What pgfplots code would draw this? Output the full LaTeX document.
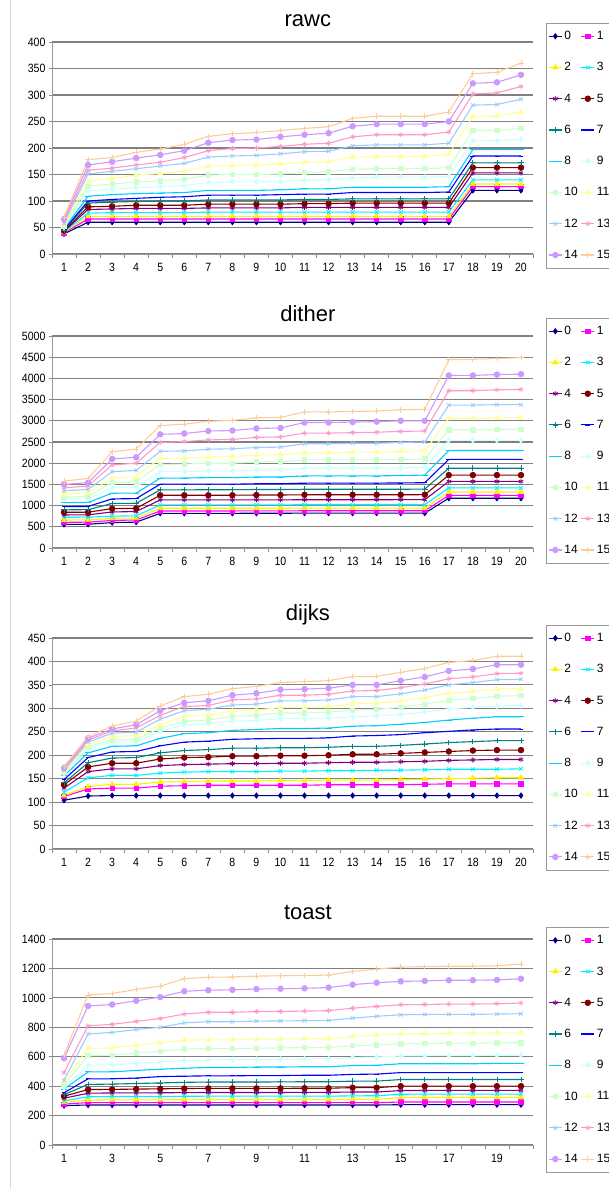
\documentclass[border=0pt]{standalone}
\usepackage{fontspec}
\setmainfont{Liberation Sans}
\newfontfamily\tickfont[FakeStretch=0.88]{Liberation Sans}
\usepackage{pgfplots}
\usepackage{pgfplotstable}
\pgfplotsset{compat=1.18}

\definecolor{c0}{RGB}{0,0,128}
\definecolor{c1}{RGB}{255,0,255}
\definecolor{c2}{RGB}{255,240,0}
\definecolor{c3}{RGB}{0,240,255}
\definecolor{c4}{RGB}{128,0,128}
\definecolor{c5}{RGB}{128,0,0}
\definecolor{c6}{RGB}{0,128,128}
\definecolor{c7}{RGB}{0,0,255}
\definecolor{c8}{RGB}{0,204,255}
\definecolor{c9}{RGB}{204,255,255}
\definecolor{c10}{RGB}{204,255,204}
\definecolor{c11}{RGB}{255,255,153}
\definecolor{c12}{RGB}{153,204,255}
\definecolor{c13}{RGB}{255,153,204}
\definecolor{c14}{RGB}{204,153,255}
\definecolor{c15}{RGB}{255,204,153}

\pgfplotstableread{
x s0 s1 s2 s3 s4 s5 s6 s7 s8 s9 s10 s11 s12 s13 s14 s15
1 38 40 41 42 43 44 45 46 48 50 52 55 58 62 66 70
2 60 66 71 77 84 89 96 100 109 119 128 138 151 158 168 178
3 60 66 71 78 85 90 98 103 112 122 132 143 156 162 174 182
4 60 66 71 78 86 92 99 105 114 125 136 149 161 168 181 192
5 60 66 71 78 86 92 100 107 115 127 138 152 166 173 187 198
6 60 66 71 78 86 92 100 108 116 129 141 156 171 182 195 207
7 60 66 71 79 87 94 102 111 120 135 149 166 183 195 210 222
8 60 66 71 79 87 94 102 111 120 136 150 167 185 199 215 227
9 60 66 71 79 87 94 102 111 120 136 150 168 186 200 216 229
10 60 66 71 79 87 94 102 112 121 137 151 170 189 203 221 233
11 60 66 71 79 88 95 103 113 123 139 154 173 193 207 225 237
12 60 66 71 79 88 95 103 113 123 140 155 174 194 209 228 240
13 60 66 71 79 88 96 104 116 126 144 160 183 204 221 241 256
14 60 66 71 79 88 96 104 116 126 145 161 184 206 225 245 260
15 60 66 71 79 88 96 104 116 126 145 161 184 206 225 245 260
16 60 66 71 79 88 96 104 116 126 145 161 184 206 225 245 260
17 60 66 71 79 88 96 104 117 127 146 163 188 209 230 250 268
18 120 127 132 140 153 163 172 185 197 214 233 260 281 302 322 340
19 120 127 132 140 153 163 172 185 197 214 233 260 282 304 324 343
20 120 127 132 140 153 163 172 185 197 216 237 268 292 316 338 360
}\rawc

\pgfplotstableread{
x s0 s1 s2 s3 s4 s5 s6 s7 s8 s9 s10 s11 s12 s13 s14 s15
1 556 605 660 724 779 842 900 976 1071 1150 1200 1280 1350 1420 1500 1580
2 560 610 665 728 782 845 905 980 1075 1160 1215 1300 1380 1460 1540 1640
3 600 650 700 750 850 929 1050 1158 1292 1420 1550 1650 1800 1960 2100 2270
4 610 660 710 760 860 935 1055 1165 1295 1440 1560 1680 1830 2000 2140 2335
5 818 874 937 1016 1134 1245 1371 1505 1648 1800 1970 2120 2280 2490 2680 2890
6 818 874 937 1016 1134 1245 1371 1505 1650 1800 1980 2120 2290 2510 2700 2920
7 818 874 937 1016 1134 1245 1375 1505 1660 1820 2000 2150 2330 2550 2760 2990
8 818 874 937 1016 1134 1245 1375 1505 1660 1820 2000 2160 2340 2560 2770 3010
9 820 876 938 1018 1136 1250 1380 1515 1675 1840 2030 2190 2370 2610 2820 3070
10 820 876 938 1018 1136 1250 1380 1515 1675 1840 2030 2200 2380 2620 2830 3080
11 822 878 940 1020 1138 1255 1385 1530 1700 1880 2080 2250 2460 2710 2960 3210
12 822 878 940 1020 1138 1255 1385 1530 1700 1880 2080 2250 2460 2710 2960 3210
13 822 878 940 1020 1138 1255 1385 1530 1700 1880 2080 2260 2470 2720 2970 3220
14 822 878 940 1020 1138 1255 1385 1530 1700 1880 2080 2260 2470 2730 2980 3230
15 822 878 940 1020 1140 1255 1385 1535 1710 1890 2090 2280 2490 2750 3000 3260
16 822 880 942 1022 1140 1258 1390 1540 1720 1900 2100 2290 2500 2760 3000 3270
17 1174 1240 1320 1420 1570 1720 1880 2090 2300 2540 2790 3060 3370 3710 4070 4440
18 1174 1240 1320 1420 1570 1720 1880 2090 2300 2540 2790 3060 3370 3710 4070 4450
19 1174 1240 1320 1420 1570 1720 1880 2090 2300 2540 2800 3070 3380 3730 4090 4470
20 1174 1240 1320 1420 1570 1720 1880 2090 2300 2540 2800 3070 3380 3740 4100 4490
}\dither

\pgfplotstableread{
x s0 s1 s2 s3 s4 s5 s6 s7 s8 s9 s10 s11 s12 s13 s14 s15
1 104 112 114 121 130 137 141 148 156 160 163 166 168 170 173 176
2 113 128 133 152 165 175 184 195 205 213 218 223 228 232 236 240
3 114 130 138 157 171 183 194 207 219 228 233 240 247 252 256 262
4 114 130 138 157 171 183 195 208 220 229 234 242 249 258 265 273
5 114 134 143 162 178 192 205 220 236 251 258 265 277 285 295 305
6 114 135 144 164 180 195 210 228 246 265 272 283 295 304 312 325
7 114 136 145 165 181 196 212 230 248 267 275 286 298 306 316 330
8 114 136 145 165 182 198 215 234 253 273 283 294 307 318 328 342
9 114 136 145 165 182 198 215 235 255 274 285 296 309 320 332 347
10 114 136 146 166 183 199 216 236 257 278 290 302 316 328 340 355
11 114 136 146 166 183 199 216 236 257 278 290 302 316 328 341 357
12 114 137 147 167 184 200 217 237 258 279 292 304 318 330 343 359
13 114 137 147 167 185 202 219 241 262 282 296 310 325 337 350 368
14 114 137 147 168 185 202 219 242 263 284 298 311 325 338 350 368
15 114 137 148 168 186 204 221 244 266 287 302 316 331 344 359 377
16 114 138 149 169 187 206 224 248 270 292 309 323 339 352 367 385
17 114 139 150 170 189 208 227 251 275 299 317 332 350 363 380 398
18 114 139 151 170 190 210 229 254 279 302 321 336 355 367 384 402
19 114 139 152 170 191 211 231 256 282 305 326 341 361 374 393 411
20 114 139 152 171 191 211 231 256 282 306 327 342 362 375 393 411
}\dijks

\pgfplotstableread{
x s0 s1 s2 s3 s4 s5 s6 s7 s8 s9 s10 s11 s12 s13 s14 s15
1 268 278 290 300 318 332 342 355 380 392 410 430 440 492 590 610
2 272 288 305 328 352 377 412 450 497 542 607 657 755 810 945 1020
3 272 288 307 330 354 378 414 450 497 545 610 660 765 820 955 1030
4 272 288 307 330 354 380 418 455 507 555 625 678 785 840 980 1057
5 272 288 307 331 355 382 422 465 515 565 637 695 800 860 1005 1080
6 272 288 308 331 356 384 426 468 522 575 653 713 830 890 1045 1130
7 272 288 308 332 357 385 428 470 527 578 655 715 838 902 1052 1140
8 272 288 308 332 357 385 428 470 527 580 655 715 838 902 1055 1142
9 272 288 308 332 357 385 428 472 530 582 658 718 842 907 1060 1148
10 272 288 308 332 357 385 429 472 530 583 660 720 843 908 1062 1150
11 272 288 308 332 358 386 430 474 532 585 662 722 845 910 1065 1152
12 272 288 308 332 358 386 430 474 532 585 662 722 847 913 1070 1155
13 272 288 310 334 360 390 434 480 540 595 675 738 862 930 1090 1180
14 272 288 310 335 360 390 434 482 542 598 680 748 875 942 1103 1195
15 274 292 322 345 370 400 445 492 552 605 688 755 885 953 1112 1210
16 274 292 323 346 371 400 445 492 552 607 690 758 887 955 1115 1212
17 274 292 323 346 371 400 445 492 552 608 692 760 888 958 1120 1215
18 274 292 323 346 371 400 445 492 552 608 692 760 888 958 1120 1215
19 274 292 323 346 371 400 445 492 555 610 695 762 890 960 1122 1218
20 274 292 323 346 371 400 445 492 555 610 695 762 892 965 1130 1230
}\toast

\pgfplotsset{
  s0/.style={c0, mark=diamond*, mark size=2.6pt},
  s1/.style={c1, mark=square*, mark size=2.2pt},
  s2/.style={c2, mark=triangle*, mark size=2.8pt},
  s3/.style={c3, mark=x, mark size=2.6pt},
  s4/.style={c4, mark=asterisk, mark size=2.6pt},
  s5/.style={c5, mark=*, mark size=2.8pt},
  s6/.style={c6, mark=+, mark size=2.8pt},
  s7/.style={c7, mark=-, mark size=2.4pt},
  s8/.style={c8, mark=-, mark size=3.2pt},
  s9/.style={c9, mark=diamond*, mark size=2.6pt},
  s10/.style={c10, mark=square*, mark size=2.2pt},
  s11/.style={c11, mark=triangle*, mark size=2.8pt},
  s12/.style={c12, mark=x, mark size=2.6pt},
  s13/.style={c13, mark=asterisk, mark size=2.6pt},
  s14/.style={c14, mark=*, mark size=2.8pt},
  s15/.style={c15, mark=+, mark size=2.8pt},
  base/.style={
    scale only axis, width=481pt, anchor=south west,
    xmin=0.5, xmax=20.5, ymin=0,
    axis x line*=bottom, axis y line*=left,
    axis line style={draw=black!40, line width=0.8pt},
    ymajorgrids, grid style={draw=black!50, line width=1.1pt},
    xtick={1,...,20},
    minor xtick={0.5,1.5,...,20.5},
    major x tick style={draw=none},
    minor x tick style={draw=black!45, line width=0.7pt},
    minor tick length=4pt,
    major tick length=3pt,
    y tick style={draw=black!45, line width=0.7pt},
    tick align=outside,
    tick label style={font=\tickfont\fontsize{12}{12}\selectfont, text=black},
    xticklabel style={yshift=-3pt},
    /pgf/number format/assume math mode=true,
    /pgf/number format/1000 sep={},
    scaled y ticks=false,
    title style={font=\fontsize{22}{24}\selectfont, at={(0.532,1)}, anchor=base},
    legend columns=2,
    legend cell align=left,
    legend style={draw=black!40, line width=0.6pt, font=\fontsize{12}{12}\selectfont,
      anchor=north west, row sep=17.4pt, inner xsep=2pt, inner ysep=6pt,
      /tikz/every even column/.append style={column sep=1pt}},
    legend image code/.code={\draw[mark repeat=2,mark phase=2] plot coordinates {(0pt,0pt)(6.5pt,0pt)(13pt,0pt)};},
    every axis plot/.append style={line width=1.1pt, mark options={solid, line width=0.8pt}},
    legend entries={0,1,2,3,4,5,6,7,8,9,10,11,12,13,14,15},
  },
}

\newcommand{\allseries}[1]{%
  \pgfplotsinvokeforeach{0,...,15}{\addplot[s##1] table[x=x,y=s##1]{#1};}%
}

\begin{document}
\begin{tikzpicture}
\draw[black!15] (10pt,0pt) -- (10pt,-1189pt);

\begin{axis}[base, at={(52pt,-254pt)}, height=212pt, ymax=400, ytick distance=50,
  title={rawc}, title style={yshift=10pt},
  legend style={at={(1.027,1.0896)}}]
\allseries{\rawc}
\end{axis}

\begin{axis}[base, at={(52pt,-548pt)}, height=212pt, ymax=5000, ytick distance=500,
  title={dither}, title style={yshift=9pt},
  legend style={at={(1.027,1.085)}}]
\allseries{\dither}
\end{axis}

\begin{axis}[base, at={(52pt,-849pt)}, height=211pt, ymax=450, ytick distance=50,
  title={dijks}, title style={yshift=12pt},
  legend style={at={(1.027,1.062)}}]
\allseries{\dijks}
\end{axis}

\begin{axis}[base, at={(52pt,-1145pt)}, height=206pt, ymax=1400, ytick distance=200,
  xtick={1,3,...,19},
  title={toast}, title style={yshift=14pt},
  legend style={at={(1.027,1.058)}}]
\allseries{\toast}
\end{axis}

\pgfresetboundingbox
\path[use as bounding box] (0pt,0pt) rectangle (608pt,-1189pt);
\end{tikzpicture}
\end{document}
